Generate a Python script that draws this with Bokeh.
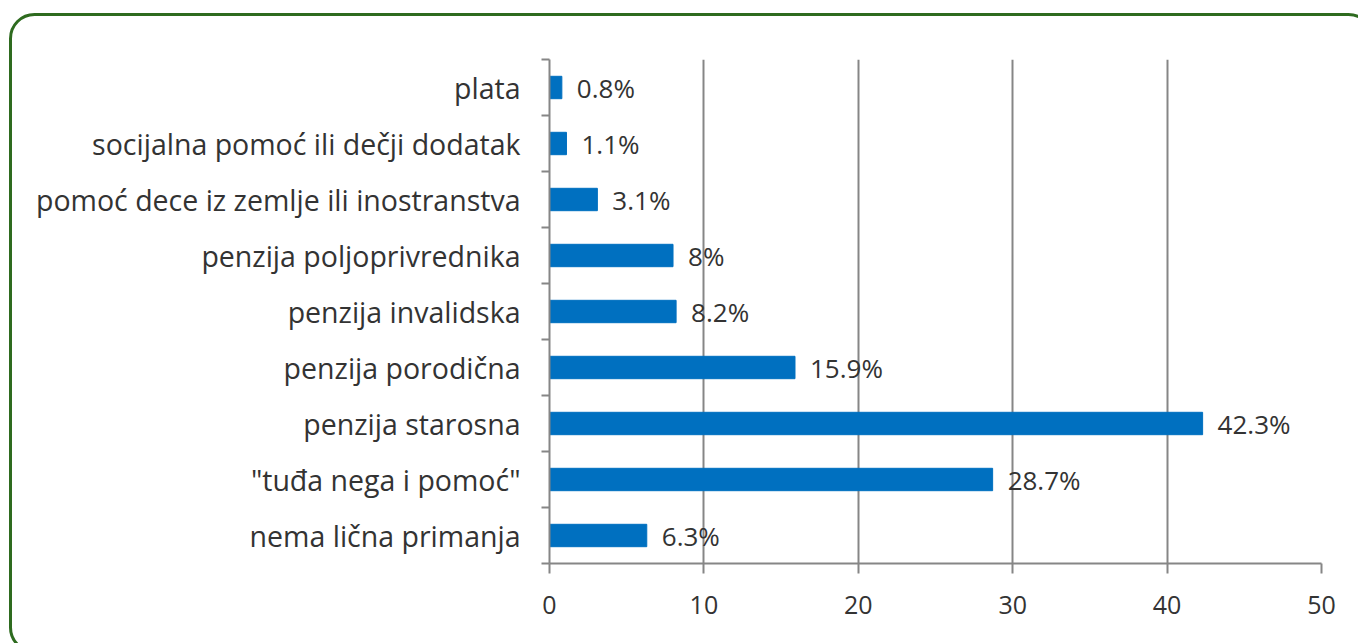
from urllib.parse import quote
from bokeh.plotting import figure
from bokeh.models import Range1d, FixedTicker, ColumnDataSource
from bokeh.core.properties import value
from bokeh.embed import file_html
from bokeh.resources import INLINE

# data (bottom to top)
categories = [
    "nema lična primanja",
    "\"tuđa nega i pomoć\"",
    "penzija starosna",
    "penzija porodična",
    "penzija invalidska",
    "penzija poljoprivrednika",
    "pomoć dece iz zemlje ili inostranstva",
    "socijalna pomoć ili dečji dodatak",
    "plata",
]
values = [6.3, 28.7, 42.3, 15.9, 8.2, 8, 3.1, 1.1, 0.8]
value_labels = ["6.3%", "28.7%", "42.3%", "15.9%", "8.2%", "8%", "3.1%", "1.1%", "0.8%"]
x_ticks = [0, 10, 20, 30, 40, 50]

idx = list(range(len(categories)))
src = ColumnDataSource(dict(y=idx, v=values, lab=value_labels))

FONT = "Open Sans"
GRAY = "#868686"
TXT = "#333333"
W, H = 1358, 643

p = figure(width=W, height=H, x_range=Range1d(0, 50),
           y_range=Range1d(-0.5, len(categories) - 0.5),
           output_backend="svg", toolbar_location=None,
           min_border_left=549, min_border_right=37,
           min_border_top=59, min_border_bottom=80)
p.outline_line_color = None
p.background_fill_color = None
p.border_fill_color = None

# decorative rounded green frame drawn as the figure's CSS background
frame_svg = (
    f"<svg xmlns='http://www.w3.org/2000/svg' width='{W}' height='{H}'>"
    "<rect x='10.5' y='14.5' width='1362' height='637' rx='24' ry='24' "
    "fill='white' stroke='#2E6B1F' stroke-width='3'/></svg>"
)
p.styles = {
    "background-color": "white",
    "background-image": 'url("data:image/svg+xml,' + quote(frame_svg, safe="") + '")',
    "background-repeat": "no-repeat",
}

# x axis
p.xaxis.ticker = FixedTicker(ticks=x_ticks)
p.xaxis.axis_line_color = GRAY
p.xaxis.axis_line_width = 2
p.xaxis.major_tick_line_color = GRAY
p.xaxis.major_tick_line_width = 2
p.xaxis.major_tick_out = 10
p.xaxis.major_tick_in = 0
p.xaxis.minor_tick_line_color = None
p.xaxis.major_label_standoff = 22
p.xaxis.major_label_text_font = FONT
p.xaxis.major_label_text_font_size = "25px"
p.xaxis.major_label_text_color = TXT

p.xgrid.ticker = FixedTicker(ticks=x_ticks)
p.xgrid.grid_line_color = GRAY
p.xgrid.grid_line_width = 2
p.ygrid.grid_line_color = None

# y axis: labels at centers, ticks at boundaries (minor ticks)
p.yaxis.ticker = FixedTicker(ticks=idx,
                             minor_ticks=[i - 0.5 for i in range(len(categories) + 1)])
p.yaxis.major_label_overrides = {i: c for i, c in zip(idx, categories)}
p.yaxis.major_tick_line_color = None
p.yaxis.minor_tick_line_color = GRAY
p.yaxis.minor_tick_line_width = 2
p.yaxis.minor_tick_out = 8
p.yaxis.minor_tick_in = 0
p.yaxis.axis_line_color = GRAY
p.yaxis.axis_line_width = 2
p.yaxis.major_label_standoff = 21
p.yaxis.major_label_text_font = FONT
p.yaxis.major_label_text_font_size = "28.5px"
p.yaxis.major_label_text_color = TXT

p.hbar(y="y", left=0, right="v", height=0.4, source=src,
       fill_color="#0070C0", line_color="#0070C0")
p.text(x="v", y="y", text="lab", source=src, x_offset=15,
       text_baseline="middle", text_align="left",
       text_font=value(FONT), text_font_size="26px", text_color=TXT)

open("out.html", "w").write(file_html(p, INLINE))
